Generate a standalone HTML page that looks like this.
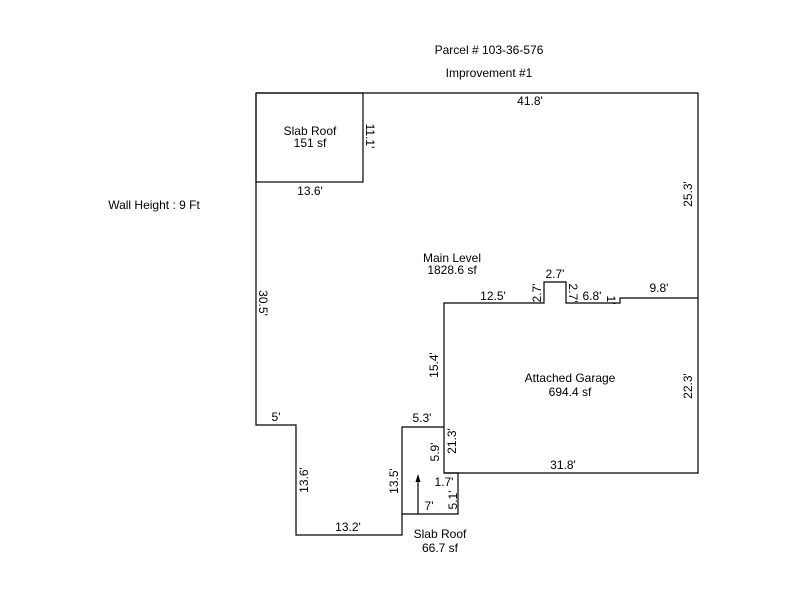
<!DOCTYPE html>
<html><head><style>body{margin:0;background:#fff}svg{display:block}text{font-family:"Liberation Sans",Arial,sans-serif;font-size:12px;fill:#000}</style></head><body>
<svg width="800" height="600" viewBox="0 0 800 600">
<g fill="none" stroke="#000" stroke-width="1.2">
<polyline points="256,93 698,93 698,473 444,473 444,303 544,303 544,282 566,282 566,303 620,303 620,298 698,298"/>
<polyline points="256,93 256,425 296,425 296,535 402,535 402,427 444,427"/>
<rect x="256" y="93" width="107" height="89"/>
<polyline points="444,473 458,473 458,514 402,514"/>
<line x1="418" y1="514" x2="418" y2="480"/>
</g>
<polygon points="418,474 415.5,482 420.5,482" fill="#000"/>
<g text-anchor="middle">
<text x="489" y="54">Parcel # 103-36-576</text>
<text x="489" y="77">Improvement #1</text>
<text x="154" y="209">Wall Height : 9 Ft</text>
<text x="310" y="135">Slab Roof</text><text x="310" y="147">151 sf</text>
<text x="452" y="262">Main Level</text><text x="452" y="274">1828.6 sf</text>
<text x="570" y="382">Attached Garage</text><text x="570" y="396">694.4 sf</text>
<text x="440" y="538">Slab Roof</text><text x="440" y="552">66.7 sf</text>
<text x="530" y="105">41.8'</text>
<text x="310" y="195">13.6'</text>
<text x="493" y="300">12.5'</text>
<text x="555" y="278">2.7'</text>
<text x="592" y="300">6.8'</text>
<text x="659" y="292">9.8'</text>
<text x="276" y="421">5'</text>
<text x="422" y="422">5.3'</text>
<text x="563" y="469">31.8'</text>
<text x="444" y="486">1.7'</text>
<text x="429" y="510">7'</text>
<text x="348" y="531">13.2'</text>
</g>
<g text-anchor="middle">
<text transform="translate(366,136) rotate(90)">11.1'</text>
<text transform="translate(259,303) rotate(90)">30.5'</text>
<text transform="translate(692,194) rotate(-90)">25.3'</text>
<text transform="translate(692,386) rotate(-90)">22.3'</text>
<text transform="translate(438,365) rotate(-90)">15.4'</text>
<text transform="translate(456,441) rotate(-90)">21.3'</text>
<text transform="translate(439,452) rotate(-90)">5.9'</text>
<text transform="translate(308,480) rotate(-90)">13.6'</text>
<text transform="translate(398,481) rotate(-90)">13.5'</text>
<text transform="translate(457,500) rotate(-90)">5.1'</text>
<text transform="translate(541,293) rotate(-90)">2.7'</text>
<text transform="translate(569,293) rotate(90)">2.7'</text>
<text transform="translate(607,300) rotate(90)" font-size="9">1'</text>
</g>
</svg>
</body></html>
